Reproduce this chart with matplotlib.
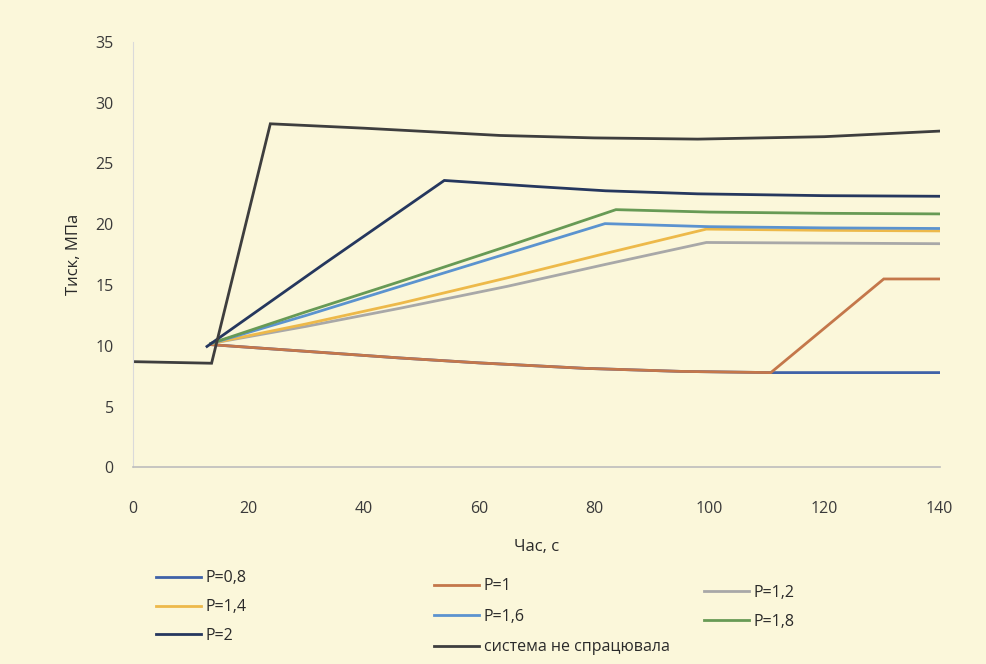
import matplotlib
matplotlib.use("Agg")
import matplotlib.pyplot as plt

plt.rcParams['font.family'] = ['Open Sans', 'DejaVu Sans']

# ---- data ----
t_p08 = [13.5, 30, 46.4, 60, 78.4, 95, 110.7, 140]
v_p08 = [10.1, 9.55, 9.0, 8.6, 8.15, 7.9, 7.8, 7.8]

t_p1 = [13.5, 30, 46.4, 60, 78.4, 95, 110.7, 130.3, 140]
v_p1 = [10.1, 9.55, 9.0, 8.6, 8.15, 7.9, 7.8, 15.5, 15.5]

t_p12 = [13.5, 30, 46.4, 65, 82, 99.5, 120, 140]
v_p12 = [10.2, 11.6, 13.1, 14.9, 16.7, 18.5, 18.45, 18.4]

t_p14 = [13.5, 30, 46.4, 65, 82, 99.5, 120, 140]
v_p14 = [10.2, 11.8, 13.5, 15.6, 17.6, 19.6, 19.5, 19.45]

t_p16 = [13.5, 30, 46.4, 65, 81.9, 100, 120, 140]
v_p16 = [10.2, 12.5, 14.9, 17.6, 20.05, 19.8, 19.7, 19.65]

t_p18 = [13.5, 30, 46.4, 65, 83.8, 100, 120, 140]
v_p18 = [10.2, 12.8, 15.3, 18.2, 21.2, 21.0, 20.9, 20.85]

t_p2 = [12.8, 33, 54, 70, 82, 98, 120, 140]
v_p2 = [9.95, 16.7, 23.6, 23.1, 22.75, 22.5, 22.35, 22.3]

t_fail = [0, 13.6, 23.8, 40, 63.7, 80, 98, 120, 140]
v_fail = [8.7, 8.57, 28.26, 27.9, 27.3, 27.1, 27.0, 27.2, 27.66]

labels = ['P=0,8', 'P=1', 'P=1,2', 'P=1,4', 'P=1,6', 'P=1,8', 'P=2',
          'система не спрацювала']
colors = ['#3F62A8', '#C4774A', '#A8A8A8', '#EDB94A', '#5B93CF', '#679A55',
          '#25375E', '#3E3E3E']
series = [(t_p08, v_p08), (t_p1, v_p1), (t_p12, v_p12), (t_p14, v_p14),
          (t_p16, v_p16), (t_p18, v_p18), (t_p2, v_p2), (t_fail, v_fail)]

x_ticks = [0, 20, 40, 60, 80, 100, 120, 140]
y_ticks = [0, 5, 10, 15, 20, 25, 30, 35]

bg = '#FBF7DA'
fig = plt.figure(figsize=(9.87, 6.64), dpi=100, facecolor=bg)
ax = fig.add_axes([0.135, 0.296, 0.817, 0.641], facecolor=bg)

handles = {}
for (t, v), lab, c in zip(series, labels, colors):
    ln, = ax.plot(t, v, color=c, lw=2.0, solid_joinstyle='miter')
    handles[lab] = ln

ax.set_xlim(0, 140)
ax.set_ylim(0, 35)
ax.set_xticks(x_ticks)
ax.set_yticks(y_ticks)
ax.tick_params(length=0, labelsize=11.5, colors='#3A3A3A')
ax.tick_params(axis='x', pad=24)
ax.tick_params(axis='y', pad=14)
for s in ['top', 'right']:
    ax.spines[s].set_visible(False)
ax.spines['left'].set_color('#DADADA')
ax.spines['bottom'].set_color('#BDBDBD')
ax.spines['bottom'].set_linewidth(1.2)

ax.set_ylabel('Тиск, МПа', fontsize=12, color='#2A2A2A', labelpad=10)
ax.set_xlabel('Час, с', fontsize=12, color='#2A2A2A', labelpad=16)

cols = [
    (['P=0,8', 'P=1,4', 'P=2'], (0.150, 0.153), 0.8),
    (['P=1', 'P=1,6', 'система не спрацювала'], (0.432, 0.141), 0.9),
    (['P=1,2', 'P=1,8'], (0.705, 0.131), 0.8),
]
for labs, (x, y), sp in cols:
    fig.legend([handles[l] for l in labs], labs, loc='upper left',
               bbox_to_anchor=(x, y), frameon=False, fontsize=11.5,
               handlelength=2.8, handletextpad=0.3, labelspacing=sp,
               borderpad=0, labelcolor='#2A2A2A')

fig.savefig('out.png', dpi=100, facecolor=bg)
